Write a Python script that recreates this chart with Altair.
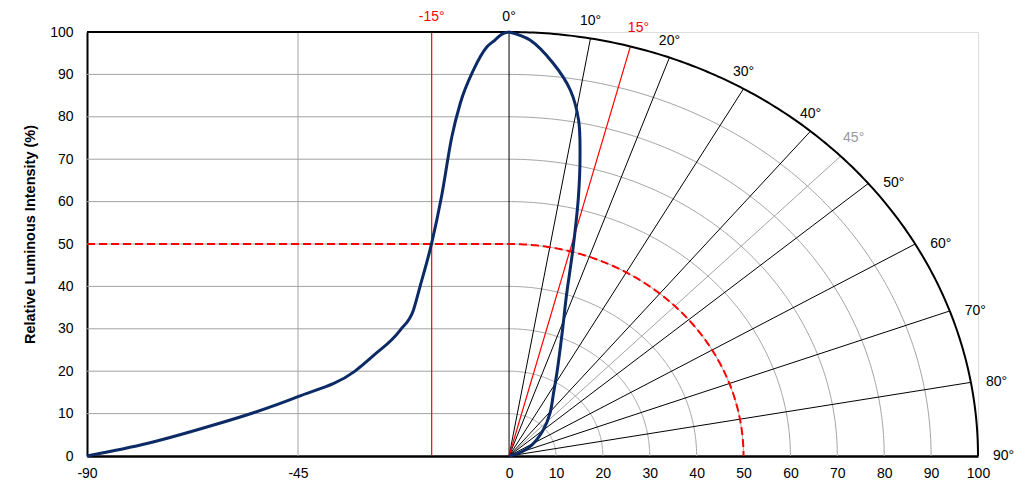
import altair as alt
import numpy as np
import pandas as pd

# ---- data ----
left_angle = [-90, -77, -63, -54.5, -45, -33, -29, -23.2, -20.4, -19.0, -16.5, -14.4, -12.2, -10.4, -7.6, -4.7, -3.0, -1.5, 0]
left_intensity = [0, 3.0, 7.3, 10.2, 14.0, 19.9, 23.6, 29.7, 34.4, 39.9, 50.2, 61.2, 75.3, 83.2, 91.0, 96.5, 98.1, 99.5, 100]

right_angle = [0, 2.6, 5.8, 8.6, 10.6, 12.1, 13.6, 15.5, 18, 21, 27.6, 32.6, 41, 50, 62, 72, 90]
right_intensity = [100, 98.2, 93.1, 87.3, 80.6, 72.2, 62.9, 51.2, 39.5, 31.8, 22, 17.6, 13.3, 9.5, 5.5, 2.1, 0]

x_ticks = [-90, -45, 0, 10, 20, 30, 40, 50, 60, 70, 80, 90, 100]
y_ticks = [0, 10, 20, 30, 40, 50, 60, 70, 80, 90, 100]
grid_radii = [10, 20, 30, 40, 50, 60, 70, 80, 90]
spoke_angles = [0, 10, 20, 30, 40, 50, 60, 70, 80]
gray_spoke = 45
red_spoke = 15
red_left_line = -16.5
half_level = 50
full_level = 100
upper_labels = [10, 20, 30, 40]
side_labels = [50, 60, 70, 80, 90]

FONT = "Liberation Sans"
GRID = "#a3a3a3"
BLUE = "#0b2a66"
RED = "#ff0000"
FS = 14

arc_t = np.linspace(0, 90, 181)


def polar(r, deg):
    t = np.radians(deg)
    return r * np.sin(t), r * np.cos(t)


def level_line(r, lid):
    rows = [(-90.0, r), (0.0, r)]
    for t in arc_t[1:]:
        rows.append(polar(r, t))
    return pd.DataFrame({"x": [p[0] for p in rows], "y": [p[1] for p in rows],
                         "id": lid, "o": range(len(rows))})


def spoke(deg, lid, r=100):
    x, y = polar(r, deg)
    return pd.DataFrame({"x": [0.0, x], "y": [0.0, y], "id": lid, "o": [0, 1]})


# gray grid
grid_parts = [level_line(r, f"g{r}") for r in grid_radii]
grid_parts.append(pd.DataFrame({"x": [-45, -45], "y": [0, 100], "id": "v45", "o": [0, 1]}))
grid_parts.append(spoke(gray_spoke, "s45"))
grid_df = pd.concat(grid_parts, ignore_index=True)

spokes_df = pd.concat([spoke(a, f"s{a}") for a in spoke_angles], ignore_index=True)
red_df = pd.concat([spoke(red_spoke, "r15"),
                    pd.DataFrame({"x": [red_left_line] * 2, "y": [0, 100], "id": "rl", "o": [0, 1]})],
                   ignore_index=True)
half_df = level_line(half_level, "half")
frame_df = level_line(full_level, "frame")

left_df = pd.DataFrame({"x": left_angle, "y": left_intensity})
rx, ry = polar(np.array(right_intensity, dtype=float), np.array(right_angle, dtype=float))
right_df = pd.DataFrame({"x": rx, "y": ry, "o": range(len(right_angle))})

xs = alt.Scale(domain=[-90, 100], nice=False, zero=False)
ys = alt.Scale(domain=[0, 100], nice=False, zero=False)

AX = alt.Axis(values=x_ticks, title=None, grid=False, ticks=False,
              domainColor="black", domainWidth=2.5, labelFontSize=FS,
              labelColor="#000", labelPadding=10, labelFont=FONT,
              labelOverlap=False, labelFlush=False,
              labelExpr="datum.value < 0 ? '-' + abs(datum.value) : '' + datum.value")
AY = alt.Axis(values=y_ticks, title="Relative Luminous Intensity (%)",
              grid=False, ticks=False, domainColor="black", domainWidth=2,
              labelFontSize=FS, labelColor="#000", labelPadding=14,
              labelFont=FONT, titleFont=FONT, titleFontSize=14.5,
              titleFontWeight="bold", titleColor="#000", titlePadding=12, titleY=202)

X = alt.X("x:Q", scale=xs, axis=AX)
Y = alt.Y("y:Q", scale=ys, axis=AY)

base = alt.Chart(grid_df).mark_line(color=GRID, strokeWidth=1).encode(x=X, y=Y, detail="id:N", order="o:Q")
spokes = alt.Chart(spokes_df).mark_line(color="black", strokeWidth=1).encode(x=X, y=Y, detail="id:N", order="o:Q")
reds = alt.Chart(red_df).mark_line(color=RED, strokeWidth=1.2).encode(x=X, y=Y, detail="id:N", order="o:Q")
half = alt.Chart(half_df).mark_line(color=RED, strokeWidth=2, strokeDash=[8, 4]).encode(x=X, y=Y, order="o:Q")
frame = alt.Chart(frame_df).mark_line(color="black", strokeWidth=2).encode(x=X, y=Y, order="o:Q")

left_curve = alt.Chart(left_df).mark_line(color=BLUE, strokeWidth=3, interpolate="monotone").encode(x=X, y=Y)
right_curve = alt.Chart(right_df).mark_line(color=BLUE, strokeWidth=3, interpolate="catmull-rom").encode(
    x=X, y=Y, order="o:Q")


def label_df(angles):
    px, py = polar(100.0, np.array(angles, dtype=float))
    return pd.DataFrame({"x": px, "y": py, "t": [f"{a}°" for a in angles]})


zero_txt = alt.Chart(label_df([0])).mark_text(fontSize=FS, font=FONT, color="#000", dy=-15,
                                              baseline="middle").encode(x=X, y=Y, text="t:N")
top_txt = alt.Chart(label_df(upper_labels)).mark_text(fontSize=FS, font=FONT, color="#000", dy=-17,
                                                      baseline="middle").encode(x=X, y=Y, text="t:N")
side_txt = alt.Chart(label_df(side_labels)).mark_text(fontSize=FS, font=FONT, color="#000", dx=15,
                                                      align="left", baseline="middle").encode(x=X, y=Y, text="t:N")
red_txt = alt.Chart(label_df([red_spoke])).mark_text(fontSize=FS, font=FONT, color=RED, dx=8, dy=-18,
                                                     baseline="middle").encode(x=X, y=Y, text="t:N")
gray_txt = alt.Chart(label_df([gray_spoke])).mark_text(fontSize=FS, font=FONT, color="#999999", dx=13, dy=-18,
                                                       baseline="middle").encode(x=X, y=Y, text="t:N")
neg_txt = alt.Chart(pd.DataFrame({"x": [red_left_line], "y": [100], "t": ["-15°"]})).mark_text(
    fontSize=FS, font=FONT, color=RED, dy=-15, baseline="middle").encode(x=X, y=Y, text="t:N")

chart = alt.layer(base, spokes, reds, half, frame, left_curve, right_curve,
                  zero_txt, top_txt, side_txt, red_txt, gray_txt, neg_txt).properties(
    width=891, height=424,
    padding={"left": 79, "top": 24, "right": 37, "bottom": 28},
    autosize=alt.AutoSizeParams(type="none"),
).configure_view(stroke=None).configure(font=FONT)

chart.save("out.html", embed_options={"renderer": "svg", "actions": False})
